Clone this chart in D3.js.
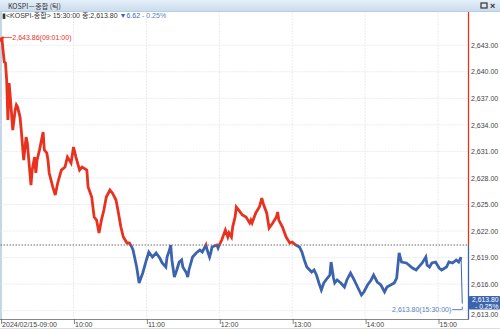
<!DOCTYPE html>
<html><head><meta charset="utf-8">
<script src="https://cdn.jsdelivr.net/npm/d3@7"></script>
<style>
html,body{margin:0;padding:0;background:#fff;}
svg{display:block;font-family:"Liberation Sans",Arial,"Noto Sans CJK KR",sans-serif;}
</style></head>
<body><svg id="c" width="500" height="329"></svg>
<script>
const times = ["09:00","09:01","09:02","09:03","09:04","09:05","09:06","09:07","09:08","09:10","09:12","09:13","09:14","09:16","09:17","09:19","09:21","09:22","09:25","09:26","09:28","09:29","09:30","09:32","09:35","09:36","09:38","09:39","09:40","09:43","09:45","09:47","09:50","09:53","09:55","09:58",
"10:00","10:02","10:05","10:07","10:11","10:12","10:15","10:17","10:19","10:21","10:23","10:25","10:27","10:30","10:32","10:35","10:37","10:39","10:41","10:44","10:46","10:48","10:49","10:52","10:54","10:57",
"11:00","11:02","11:05","11:08","11:11","11:13","11:16","11:17","11:19","11:20","11:21","11:23","11:25","11:27","11:29","11:30","11:33","11:34","11:35","11:38","11:41","11:44","11:46","11:49","11:50","11:52","11:53","11:54","11:58","11:59",
"12:00","12:02","12:05","12:07","12:08","12:10","12:11","12:13","12:14","12:16","12:19","12:22","12:25","12:26","12:27","12:30","12:33","12:35","12:36","12:39","12:41","12:44","12:47","12:48","12:49","12:52","12:55","12:58",
"13:00","13:03","13:06","13:08","13:10","13:12","13:16","13:18","13:20","13:22","13:24","13:26","13:29","13:31","13:32","13:34","13:35","13:37","13:40","13:43","13:45","13:48","13:51","13:53","13:57","13:59",
"14:02","14:05","14:07","14:10","14:13","14:16","14:18","14:21","14:24","14:26","14:28","14:30","14:34","14:36","14:39","14:42","14:44","14:47","14:50","14:51","14:53","14:55","14:58",
"15:01","15:03","15:07","15:09","15:12","15:15","15:17","15:19","15:20"];
const values = [2643.40,2643.86,2642.45,2641.10,2641.00,2639.06,2634.54,2638.72,2637.14,2633.41,2635.67,2636.24,2636.01,2634.88,2633.41,2630.02,2632.62,2631.95,2627.20,2628.89,2630.36,2628.56,2630.02,2631.15,2633.19,2631.15,2630.82,2630.02,2628.56,2626.97,2626.07,2627.43,2628.89,2629.23,2630.36,2629.69,
2631.49,2630.36,2628.89,2629.23,2628.89,2626.97,2625.84,2623.58,2623.24,2621.78,2623.24,2624.37,2625.84,2626.63,2626.30,2625.50,2624.04,2622.45,2621.32,2620.65,2620.65,2620.19,2619.86,2617.93,2616.13,2617.26,
2618.73,2619.63,2619.06,2619.52,2618.95,2618.39,2617.93,2619.06,2619.86,2620.42,2618.73,2616.80,2617.60,2618.50,2618.73,2617.93,2617.26,2616.80,2617.60,2619.06,2619.52,2619.86,2619.63,2620.42,2619.86,2619.06,2619.52,2620.19,2620.42,2620.08,
2620.42,2620.98,2622.11,2621.32,2621.78,2621.32,2622.45,2623.58,2624.71,2624.37,2623.81,2623.58,2622.91,2623.24,2622.91,2624.04,2624.71,2625.73,2625.17,2624.04,2622.34,2622.91,2623.58,2624.15,2623.24,2622.45,2621.32,2620.65,
2620.76,2620.42,2620.19,2619.63,2618.73,2617.93,2617.37,2617.60,2617.03,2616.13,2615.34,2616.13,2616.69,2617.03,2618.50,2616.69,2616.13,2616.47,2616.13,2615.67,2616.47,2617.26,2616.47,2615.90,2614.77,2615.11,
2615.90,2616.47,2617.03,2616.24,2615.90,2615.11,2615.67,2615.90,2616.13,2616.69,2619.52,2618.50,2618.39,2618.16,2617.82,2617.60,2617.93,2618.39,2619.06,2618.16,2617.93,2618.39,2618.50,
2617.82,2617.60,2617.93,2618.50,2618.39,2618.73,2618.50,2619.06,2613.80];
const prevClose = 2620.42;
const yTicks = [2643,2640,2637,2634,2631,2628,2625,2622,2619,2616,2613];
const xTickTimes = ["09:00","10:00","11:00","12:00","13:00","14:00","15:00"];
const xTickLabels = ["2024/02/15-09:00","10:00","11:00","12:00","13:00","14:00","15:00"];
const highLabel = "2,643.86(09:01:00)";
const closeLabel = "2,613.80(15:30:00)";
const closeBox = ["2,613.80","- 0.25%"];

const RED = "#e8321f", BLUE = "#3c64ae";
const parse = d3.timeParse("%H:%M");
const data = times.map((t,i)=>({t:parse(t), v:values[i]}));
const svg = d3.select("#c");
const L = 0.6, R = 468, T = 12, B = 319;
const x = d3.scaleTime().domain([parse("09:00"), new Date(parse("09:00").getTime()+384.7*60000)]).range([L,R]);
const y = d3.scaleLinear().domain([2612.06, 2646.75]).range([B,T]);
const yRef = y(prevClose);

// header bar
const g0 = svg.append("defs").append("linearGradient").attr("id","hg").attr("x1",0).attr("y1",0).attr("x2",0).attr("y2",1);
g0.append("stop").attr("offset","0").attr("stop-color","#e6f0f9");
g0.append("stop").attr("offset","1").attr("stop-color","#cadced");
svg.append("rect").attr("x",0).attr("y",0).attr("width",500).attr("height",11).attr("fill","url(#hg)");
svg.append("line").attr("x1",0).attr("x2",500).attr("y1",11.5).attr("y2",11.5).attr("stroke","#b7cde0");
svg.append("text").attr("x",8).attr("y",8.5).attr("font-size",7).attr("fill","#333")
  .attr("font-family","'Noto Sans CJK KR',sans-serif").text("KOSPI－종합 (틱)");
svg.append("rect").attr("x",481).attr("y",3).attr("width",6).attr("height",5).attr("fill","none").attr("stroke","#333").attr("stroke-width",1.2);
svg.append("text").attr("x",490).attr("y",9).attr("font-size",9).attr("font-weight","bold").attr("fill","#333").text("×");

// left strip
svg.append("rect").attr("x",0).attr("y",12).attr("width",2).attr("height",B-12).attr("fill","#c3d6e8");

// grid
const gg = svg.append("g");
yTicks.forEach(v=>{
  gg.append("line").attr("x1",L).attr("x2",R).attr("y1",y(v)).attr("y2",y(v))
    .attr("stroke","#e6e6e6").attr("stroke-width",0.8).attr("stroke-dasharray","2,1");
});
xTickTimes.slice(1).forEach(t=>{
  gg.append("line").attr("x1",x(parse(t))).attr("x2",x(parse(t))).attr("y1",T).attr("y2",B)
    .attr("stroke","#e6e6e6").attr("stroke-width",0.8).attr("stroke-dasharray","2,1");
});

// info line
const info = svg.append("text").attr("x",2).attr("y",18).attr("font-size",7).attr("fill","#333")
  .attr("font-family","'Liberation Sans','Noto Sans CJK KR',sans-serif");
info.append("tspan").text("▮<KOSPI-종합> 15:30:00 종:2,613.80 ");
info.append("tspan").attr("fill",BLUE).text("▼6.62 ");
info.append("tspan").attr("fill","#5a7fc0").text(" - 0.25%");

// reference line
svg.append("line").attr("x1",L).attr("x2",R).attr("y1",yRef).attr("y2",yRef)
  .attr("stroke","#666").attr("stroke-width",1).attr("stroke-dasharray","1.5,1.5");

// clips
const defs = svg.append("defs");
defs.append("clipPath").attr("id","up").append("rect").attr("x",0).attr("y",0).attr("width",R).attr("height",yRef);
defs.append("clipPath").attr("id","dn").append("rect").attr("x",0).attr("y",yRef).attr("width",R).attr("height",B-yRef);

const line = d3.line().x(d=>x(d.t)).y(d=>y(d.v));
svg.append("path").datum(data).attr("d",line).attr("fill","none").attr("stroke",RED)
  .attr("stroke-width",2.8).attr("stroke-linejoin","miter").attr("clip-path","url(#up)");
svg.append("path").datum(data.slice(0,-1)).attr("d",line).attr("fill","none").attr("stroke",BLUE)
  .attr("stroke-width",2.8).attr("stroke-linejoin","miter").attr("clip-path","url(#dn)");
// closing drop thin
const last2 = data.slice(-2);
svg.append("path").datum(last2).attr("d",line).attr("fill","none").attr("stroke",BLUE).attr("stroke-width",1);

// high annotation
const hi = data[1];
svg.append("circle").attr("cx",x(hi.t)+1).attr("cy",y(hi.v)).attr("r",1.2).attr("fill",RED);
svg.append("line").attr("x1",x(hi.t)+1).attr("x2",x(hi.t)+10).attr("y1",y(hi.v)).attr("y2",y(hi.v)).attr("stroke",RED).attr("stroke-width",0.8);
svg.append("text").attr("x",x(hi.t)+10.5).attr("y",y(hi.v)+2.5).attr("font-size",7).attr("fill",RED).text(highLabel);

// close annotation
const cl = data[data.length-1];
const cy = y(cl.v)+6;
svg.append("line").attr("x1",x(cl.t)-10).attr("x2",x(cl.t)).attr("y1",cy).attr("y2",cy).attr("stroke",BLUE).attr("stroke-width",0.8);
svg.append("line").attr("x1",x(cl.t)).attr("x2",x(cl.t)).attr("y1",cy).attr("y2",cy-3).attr("stroke",BLUE).attr("stroke-width",0.8);
svg.append("text").attr("x",x(cl.t)-11).attr("y",cy+2.5).attr("text-anchor","end").attr("font-size",7).attr("fill","#5a7fc0").text(closeLabel);

// right axis colored line
svg.append("line").attr("x1",R+0.5).attr("x2",R+0.5).attr("y1",T).attr("y2",yRef).attr("stroke",RED).attr("stroke-width",1.3);
svg.append("line").attr("x1",R+0.5).attr("x2",R+0.5).attr("y1",yRef).attr("y2",B).attr("stroke",BLUE).attr("stroke-width",1.3);

// y labels
const yAxis = d3.axisRight(y).tickValues(yTicks).tickSize(0).tickPadding(3).tickFormat(d=>d3.format(",.2f")(d));
const ya = svg.append("g").attr("transform",`translate(${R},0)`).call(yAxis);
ya.select(".domain").remove();
ya.selectAll("text").attr("font-size",7).attr("fill","#444").attr("font-family","'Liberation Sans',Arial,sans-serif");
ya.selectAll(".tick").filter(d=>d===2613).select("text").attr("dy","0.9em");

// close box
const by = y(cl.v);
svg.append("rect").attr("x",469).attr("y",by-7.5).attr("width",31).attr("height",13.5).attr("fill",BLUE).attr("rx",1);
svg.append("text").attr("x",472).attr("y",by-1.5).attr("font-size",6.8).attr("fill","#fff").text(closeBox[0]);
svg.append("text").attr("x",475).attr("y",by+5).attr("font-size",6.8).attr("fill","#fff").text(closeBox[1]);

// x axis
svg.append("line").attr("x1",0).attr("x2",R+1).attr("y1",B+0.5).attr("y2",B+0.5).attr("stroke","#888");
svg.append("line").attr("x1",0).attr("x2",500).attr("y1",328.5).attr("y2",328.5).attr("stroke","#ddd");
xTickTimes.forEach((t,i)=>{
  const xx = x(parse(t));
  svg.append("line").attr("x1",xx+1).attr("x2",xx+1).attr("y1",B).attr("y2",B+5).attr("stroke","#666").attr("stroke-width",0.8);
  svg.append("text").attr("x",xx+1.5).attr("y",327).attr("font-size",7).attr("fill","#444").text(xTickLabels[i]);
});
</script></body></html>
